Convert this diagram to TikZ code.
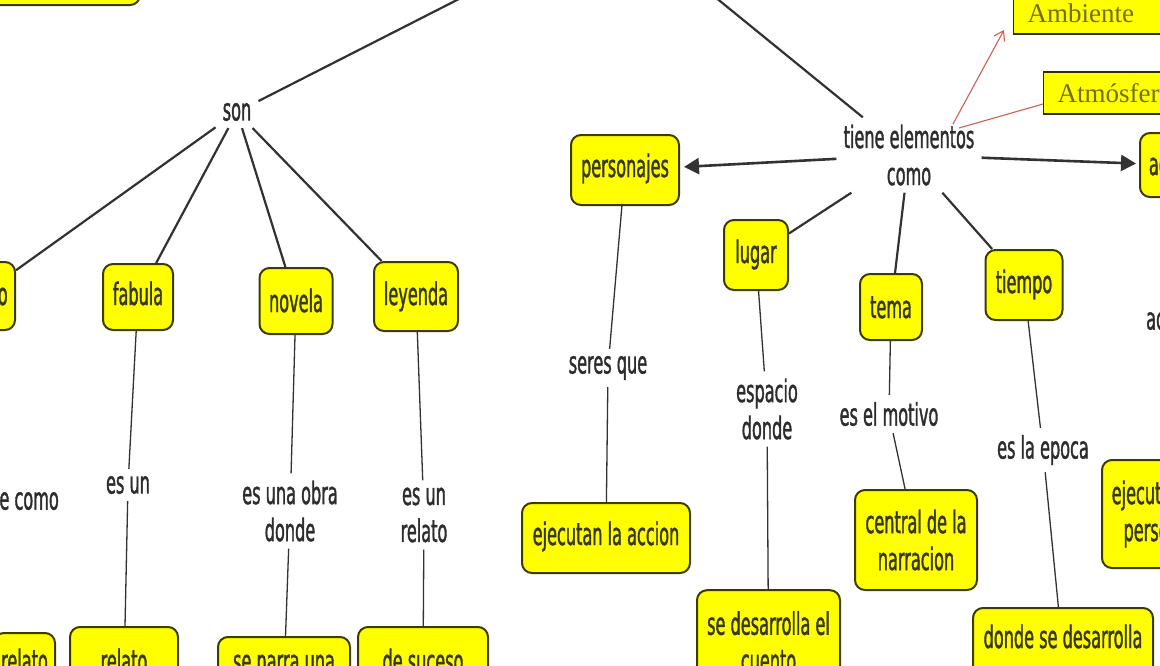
\documentclass[tikz,border=0pt]{standalone}
\usepackage{fontspec}
\newfontfamily\mapfont{DejaVu Sans}[FakeStretch=0.52,FakeBold=1.2]
\newfontfamily\serifbox{Liberation Serif}
\usetikzlibrary{arrows.meta}
\definecolor{boxfill}{RGB}{255,255,0}
\definecolor{boxline}{RGB}{60,60,0}
\definecolor{boxtext}{RGB}{55,55,25}
\definecolor{labtext}{RGB}{45,45,45}
\definecolor{linkcol}{RGB}{50,50,50}
\definecolor{redlink}{RGB}{205,95,85}
\definecolor{olivetext}{RGB}{115,110,20}
\begin{document}
\begin{tikzpicture}[x=1pt,y=-1pt,
  every node/.style={font=\mapfont\fontsize{31}{37}\selectfont},
  concept/.style={draw=boxline, fill=boxfill, line width=2pt, rounded corners=10pt,
    text=boxtext, inner sep=0pt, align=center},
  sline/.style={concept, anchor=base},
  flat/.style={draw=boxline!80!black, fill=boxfill, line width=1.2pt, inner ysep=0pt,
    inner xsep=14pt, text=olivetext, anchor=base west, align=left,
    font=\serifbox\fontsize{27}{32}\selectfont},
  lab/.style={text=labtext, inner sep=7pt, align=center},
  link/.style={draw=linkcol, line width=1.3pt},
  biglink/.style={draw=linkcol, line width=2.2pt},
  arrlink/.style={draw=linkcol, line width=2.6pt, -{Triangle[length=15pt,width=16pt]}},
  redarr/.style={draw=redlink, line width=1.1pt}
]
\useasboundingbox (0,0) rectangle (1160,665);
\clip (0,0) rectangle (1160,665);
\fill[white] (0,0) rectangle (1160,665);

% off-picture parent
\coordinate (root) at (618,-82);
\node[concept, minimum width=260pt, minimum height=80pt] (topbox) at (10,-35) {};

% left branch
\node[lab] (son) at (237,112) {son};
\node[sline, minimum width=70pt, text height=43pt, text depth=25pt] (cuento) at (-20,305) {cuento};
\node[sline, minimum width=70pt, text height=41pt, text depth=25pt] (fabula) at (138,305) {fabula};
\node[sline, minimum width=73pt, text height=44pt, text depth=22pt] (novela) at (296,312) {novela};
\node[sline, minimum width=84pt, text height=43pt, text depth=26pt] (leyenda) at (416,305) {leyenda};

\node[lab, anchor=east] (defcomo) at (66,498) {se define como};
\node[lab] (esun) at (128,485) {es un};
\node[lab] (obra) at (290,511) {es una obra\\donde};
\node[lab] (relat) at (424,515) {es un\\relato};

\node[sline, minimum width=61pt, text height=39pt, text depth=48pt] (rel0) at (24.5,672) {relato};
\node[sline, minimum width=108pt, text height=45pt, text depth=48pt] (relato) at (124,672) {relato};
\node[sline, minimum width=132pt, text height=35pt, text depth=48pt] (narra) at (284,672) {se narra una};
\node[sline, minimum width=130pt, text height=45pt, text depth=48pt] (suceso) at (423,672) {de suceso};

% right branch
\node[lab] (tiene) at (909,155) {tiene elementos\\como};
\node[sline, minimum width=108pt, text height=42pt, text depth=28pt] (personajes) at (625,177) {personajes};
\node[sline, minimum width=64pt, text height=43pt, text depth=27pt] (lugar) at (756,263) {lugar};
\node[sline, minimum width=62pt, text height=44pt, text depth=22pt] (tema) at (891,318) {tema};
\node[sline, minimum width=77pt, text height=43pt, text depth=27pt] (tiempo) at (1024,293) {tiempo};
\node[sline, minimum width=70pt, text height=42pt, text depth=22pt] (accion) at (1175,175) {accion};

\node[lab] (seres) at (608,368) {seres que};
\node[lab] (espacio) at (767,409) {espacio\\donde};
\node[lab] (motivo) at (889,414) {es el motivo};
\node[lab] (epoca) at (1043,450) {es la epoca};
\node[lab, anchor=west] (acon) at (1139,318) {acontecimientos};

\node[sline, minimum width=168pt, text height=42pt, text depth=28pt] (ejecutan) at (606,545) {ejecutan la accion};
\node[concept, minimum width=143pt, minimum height=103pt] (sedes) at (768.5,641.7) {se desarrolla el\\cuento};
\node[concept, minimum width=122pt, minimum height=100pt] (central) at (916,540) {central de la\\narracion};
\node[sline, minimum width=180pt, text height=40pt, text depth=52pt] (donde) at (1063,648) {donde se desarrolla};
\node[concept, minimum width=131pt, minimum height=108pt] (ejec) at (1167.5,514) {ejecutada por\\personajes};

\node[flat, text width=170pt, text height=52pt, text depth=12pt] (ambiente) at (1013,22) {Ambiente};
\node[flat, text width=150pt, text height=30pt, text depth=12pt] (atmos) at (1043,102) {Atmósfera};

% connectors: top
\draw[biglink] (son) -- (root);
\draw[biglink] (tiene) -- (root);
\draw[biglink] (son) -- (cuento);
\draw[biglink] (son) -- (fabula);
\draw[biglink] (son) -- (novela);
\draw[biglink] (son) -- (leyenda);

% left lower
\draw[link] (cuento) -- (defcomo);
\draw[link] (defcomo.south) -- (defcomo.south |- rel0.north);
\draw[link] (fabula) -- (esun);
\draw[link] (esun) -- (relato);
\draw[link] (novela) -- (obra);
\draw[link] (obra) -- (narra);
\draw[link] (leyenda) -- (relat);
\draw[link] (relat) -- (suceso);

% right
\draw[arrlink, shorten >=4pt] (tiene) -- (personajes);
\draw[arrlink, shorten >=3pt] (tiene) -- (accion);
\draw[biglink] (tiene) -- (lugar);
\draw[biglink] (tiene) -- (tema);
\draw[biglink] (tiene) -- (tiempo);

\draw[link] (personajes) -- (seres);
\draw[link] (seres) -- (ejecutan);
\draw[link] (lugar) -- (espacio);
\draw[link] (espacio) -- (sedes);
\draw[link] (tema) -- (motivo);
\draw[link] (motivo) -- (central);
\draw[link] (tiempo) -- (epoca);
\draw[link] (epoca) -- (donde);
\draw[link] (accion) -- (acon);
\draw[link] (acon) -- (ejec);

% red arrows
\coordinate (redsrc) at (953,124);
\coordinate (redsrcb) at (959,128);
\coordinate (ambtip) at (1004,30);
\coordinate (atmtip) at (1043,104);
\draw[redarr, -{Straight Barb[length=9pt,width=12pt]}] (redsrc) -- (ambtip);
\draw[redarr] (redsrcb) -- (atmtip);
\end{tikzpicture}
\end{document}
